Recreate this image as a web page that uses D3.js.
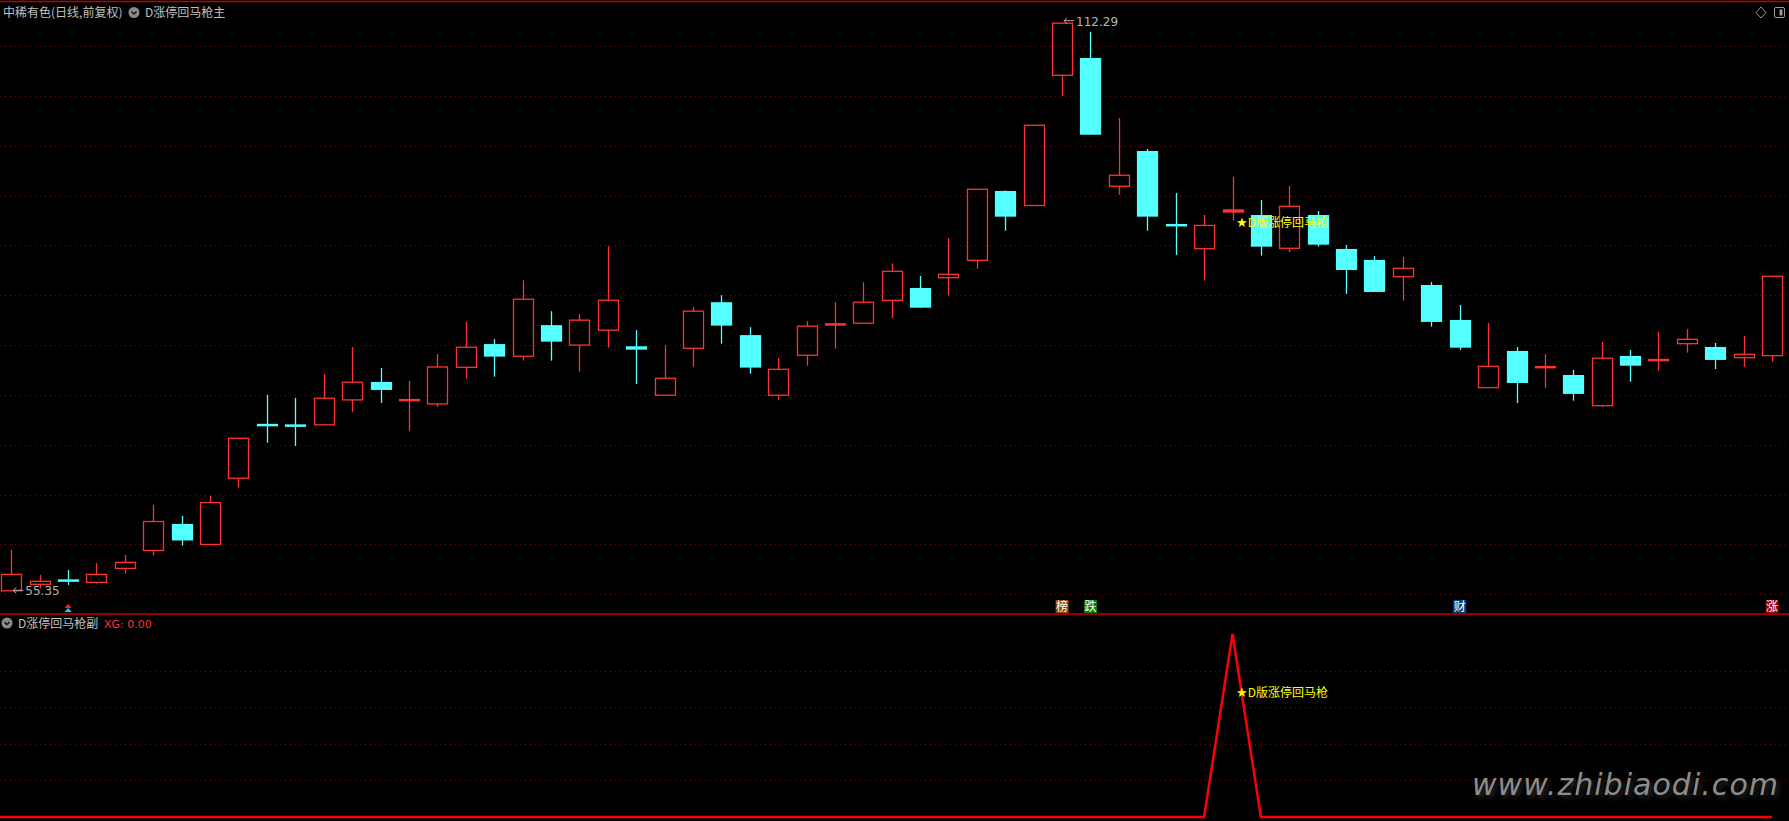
<!DOCTYPE html>
<html>
<head>
<meta charset="utf-8">
<script src="https://cdn.jsdelivr.net/npm/d3@7"></script>
<style>
  html, body { margin: 0; padding: 0; background: #000; overflow: hidden; }
  svg { display: block; }
</style>
</head>
<body>
<script>
// daily candles, index 0..62 (price)
const opens  = [55.35, 56.0, 56.4, 56.2, 57.6, 59.4, 62.06, 60.0, 66.64, 72.0,
                71.95, 72.0, 74.5, 76.3, 74.45, 74.1, 77.77, 80.1, 78.88, 82.0,
                80.0, 81.5, 79.88, 74.97, 79.68, 84.3, 81.0, 74.97, 78.98, 82.05,
                82.2, 84.49, 85.73, 86.76, 88.5, 95.46, 94.0, 107.06, 108.8, 95.93,
                99.47, 92.05, 89.67, 93.28, 93.05, 89.71, 93.05, 89.64, 88.54, 86.86,
                86.03, 82.52, 75.73, 79.41, 77.77, 77.0, 73.92, 78.91, 78.48, 80.14,
                79.81, 78.74, 78.94];
const highs  = [59.45, 56.94, 57.44, 58.14, 58.95, 63.96, 62.86, 64.86, 70.65, 75.0,
                74.7, 77.1, 79.8, 77.7, 76.4, 79.1, 82.33, 80.6, 86.5, 83.4,
                83.1, 89.94, 81.5, 80.0, 83.8, 85.0, 81.8, 78.7, 82.4, 84.3,
                86.3, 88.2, 86.93, 90.74, 95.63, 95.5, 102.05, 112.29, 111.43, 102.78,
                99.67, 95.26, 93.05, 96.86, 94.55, 95.96, 93.45, 90.04, 88.94, 88.84,
                86.33, 84.02, 82.22, 79.81, 79.1, 77.5, 80.31, 79.51, 81.32, 81.62,
                80.21, 80.91, 86.9];
const lows   = [55.35, 55.6, 55.94, 56.07, 57.07, 58.9, 59.88, 60.0, 65.7, 70.2,
                69.88, 72.0, 73.3, 74.2, 71.4, 73.8, 76.63, 76.83, 78.44, 78.44,
                77.33, 79.74, 76.1, 74.97, 77.83, 80.14, 77.13, 74.52, 77.93, 79.64,
                82.2, 82.7, 83.75, 84.96, 87.66, 91.47, 94.0, 105.0, 101.1, 95.08,
                91.47, 89.04, 86.46, 92.48, 88.97, 89.31, 89.87, 85.13, 85.33, 84.45,
                81.85, 79.51, 75.73, 74.19, 75.7, 74.42, 73.79, 76.33, 77.43, 79.24,
                77.6, 77.8, 78.33];
const closes = [57.0, 56.3, 56.35, 57.0, 58.2, 62.3, 60.4, 64.2, 70.65, 71.95,
                71.89, 74.67, 76.27, 75.5, 74.5, 77.8, 79.78, 78.84, 84.6, 80.34,
                82.5, 84.5, 79.54, 76.67, 83.4, 81.95, 77.74, 77.57, 81.9, 82.09,
                84.3, 87.4, 83.75, 87.1, 95.63, 92.88, 102.05, 112.29, 101.1, 97.03,
                92.88, 92.0, 92.0, 93.62, 89.87, 93.92, 90.07, 87.53, 85.33, 87.7,
                82.32, 79.74, 77.87, 76.2, 77.8, 75.1, 78.68, 77.93, 78.51, 80.58,
                78.51, 79.08, 86.9];

// XG signal of the lower indicator
const xg = [0, 0, 0, 0, 0, 0, 0, 0, 0, 0,
            0, 0, 0, 0, 0, 0, 0, 0, 0, 0,
            0, 0, 0, 0, 0, 0, 0, 0, 0, 0,
            0, 0, 0, 0, 0, 0, 0, 0, 0, 0,
            0, 0, 0, 1, 0, 0, 0, 0, 0, 0,
            0, 0, 0, 0, 0, 0, 0, 0, 0, 0,
            0, 0, 0];

// event tags under the main chart
const tagIndex = [37, 38, 51, 62];
const tagText  = ["榜", "跌", "财", "涨"];
const tagColor = ["#8a4a10", "#087a08", "#10407a", "#900000"];

const priceTicks = [55, 60, 65, 70, 75, 80, 85, 90, 95, 100, 105, 110];
const subTicks = [0.2, 0.4, 0.6, 0.8];

const W = 1789, H = 821;
const RED = "#ff3232", CYAN = "#54ffff", GRID = "#8a0000";
const CJK = "'Noto Sans CJK SC', 'Noto Sans', sans-serif";

const svg = d3.select("body").append("svg")
    .attr("width", W)
    .attr("height", H);

svg.append("rect").attr("width", W).attr("height", H).attr("fill", "#000");

const x = d3.scaleLinear().domain([0, 62]).range([11.3, 1772.1]);
const y = d3.scaleLinear().domain([55, 110]).range([594.3, 46]);
const ySub = d3.scaleLinear().domain([0, 1]).range([817, 634]);

// frame lines
svg.append("line").attr("x1", 0).attr("x2", W).attr("y1", 1.5).attr("y2", 1.5)
    .attr("stroke", "#c00000").attr("stroke-width", 1.5);
[23, 1733, 1768].forEach(t => {
    svg.append("line").attr("x1", t).attr("x2", t).attr("y1", 0).attr("y2", 2)
        .attr("stroke", "#c00000");
});
svg.append("line").attr("x1", 0).attr("x2", W).attr("y1", 614).attr("y2", 614)
    .attr("stroke", "#c00000").attr("stroke-width", 1.5);

// dotted grid
svg.append("g").selectAll("line")
    .data(priceTicks)
    .enter().append("line")
    .attr("x1", 0).attr("x2", W)
    .attr("y1", d => Math.round(y(d)) + 0.5)
    .attr("y2", d => Math.round(y(d)) + 0.5)
    .attr("stroke", GRID)
    .attr("stroke-dasharray", "1,4");

svg.append("g").selectAll("line")
    .data(subTicks)
    .enter().append("line")
    .attr("x1", 0).attr("x2", W)
    .attr("y1", d => Math.round(ySub(d)) + 0.5)
    .attr("y2", d => Math.round(ySub(d)) + 0.5)
    .attr("stroke", GRID)
    .attr("stroke-dasharray", "1,4");

// candles
const candles = d3.range(closes.length).map(i => ({
    i: i, o: opens[i], h: highs[i], l: lows[i], c: closes[i], sig: xg[i]
}));
const bw = 20;

const g = svg.append("g");
candles.forEach(d => {
    const cx = Math.round(x(d.i)) + 0.5;
    const up = d.c >= d.o;
    const col = up ? RED : CYAN;
    const top = y(Math.max(d.o, d.c)), bot = y(Math.min(d.o, d.c));
    const hgt = bot - top;

    if (up && hgt >= 2.5 && !d.sig) {
        // hollow red body, wick only outside the box
        g.append("line").attr("x1", cx).attr("x2", cx)
            .attr("y1", y(d.h)).attr("y2", top)
            .attr("stroke", col).attr("stroke-width", 1.3);
        g.append("line").attr("x1", cx).attr("x2", cx)
            .attr("y1", bot).attr("y2", y(d.l))
            .attr("stroke", col).attr("stroke-width", 1.3);
        g.append("rect")
            .attr("x", cx - bw / 2).attr("y", top)
            .attr("width", bw).attr("height", hgt)
            .attr("fill", "none").attr("stroke", col).attr("stroke-width", 1.3);
    } else {
        g.append("line").attr("x1", cx).attr("x2", cx)
            .attr("y1", y(d.h)).attr("y2", y(d.l))
            .attr("stroke", col).attr("stroke-width", 1.3);
        const hh = Math.max(hgt, 2.5);
        g.append("rect")
            .attr("x", cx - bw / 2 - 0.6).attr("y", (top + bot) / 2 - hh / 2)
            .attr("width", bw + 1.2).attr("height", hh)
            .attr("fill", col);
    }
});

// max / min markers
function arrowLabel(px, py, txt) {
    const a = svg.append("g").attr("fill", "none").attr("stroke", "#b4b4b4").attr("stroke-width", 1);
    a.append("path").attr("d", `M${px + 11},${py} L${px + 1},${py} M${px + 4},${py - 3} L${px + 1},${py} L${px + 4},${py + 3}`);
    svg.append("text").attr("x", px + 13).attr("y", py + 5)
        .attr("fill", "#b4b4b4").attr("font-family", "'DejaVu Sans', sans-serif")
        .attr("font-size", 12).text(txt);
}
const iMax = d3.maxIndex(highs), iMin = d3.minIndex(lows);
arrowLabel(x(iMax) + 1, y(highs[iMax]) - 2.5, d3.max(highs).toFixed(2));
arrowLabel(x(iMin) + 1, y(lows[iMin]) - 0.5, d3.min(lows).toFixed(2));

// small buy arrows under candle 2
const ax = x(2);
svg.append("path").attr("d", `M${ax - 3.5},${608} L${ax},${604} L${ax + 3.5},${608} Z`).attr("fill", "#ff2020");
svg.append("path").attr("d", `M${ax - 3.5},${612} L${ax},${608} L${ax + 3.5},${612} Z`).attr("fill", "#30c8ff");

// event tags
tagIndex.forEach((ti, k) => {
    const cx = x(ti);
    svg.append("rect").attr("x", cx - 6.5).attr("y", 600).attr("width", 13).attr("height", 13)
        .attr("fill", tagColor[k]);
    svg.append("text").attr("x", cx).attr("y", 611)
        .attr("text-anchor", "middle").attr("fill", "#fff")
        .attr("font-family", CJK).attr("font-size", 12).text(tagText[k]);
});

// indicator line, starting at the left edge
const line = d3.line().x((d, i) => i === 0 ? 0 : x(i)).y(d => ySub(d));
svg.append("path").datum(xg)
    .attr("d", line)
    .attr("fill", "none").attr("stroke", "#ff0000").attr("stroke-width", 2.5);

// signal annotations
const si = xg.indexOf(1);
function starText(py) {
    const t = svg.append("text").attr("x", x(si) + 3.5).attr("y", py)
        .attr("fill", "#ffff00").attr("font-family", CJK).attr("font-size", 12);
    t.append("tspan").attr("font-family", "'DejaVu Sans', sans-serif").attr("font-size", 13).text("★");
    t.append("tspan").text("D版涨停回马枪");
}
starText(227);
starText(697);

// titles
function icon(cx, cy) {
    svg.append("circle").attr("cx", cx).attr("cy", cy).attr("r", 5.5).attr("fill", "#8a8a8a");
    svg.append("path").attr("d", `M${cx - 2.5},${cy - 1} L${cx},${cy + 1.5} L${cx + 2.5},${cy - 1}`)
        .attr("fill", "none").attr("stroke", "#111").attr("stroke-width", 1.4);
}
svg.append("text").attr("x", 3).attr("y", 17).attr("fill", "#c0c0c0")
    .attr("font-family", CJK).attr("font-size", 12).text("中稀有色(日线,前复权)");
icon(134, 12.5);
svg.append("text").attr("x", 145).attr("y", 17).attr("fill", "#c0c0c0")
    .attr("font-family", CJK).attr("font-size", 12).text("D涨停回马枪主");

icon(7, 623);
svg.append("text").attr("x", 18).attr("y", 628).attr("fill", "#c0c0c0")
    .attr("font-family", CJK).attr("font-size", 12).text("D涨停回马枪副");
svg.append("text").attr("x", 104).attr("y", 628).attr("fill", RED)
    .attr("font-family", "'DejaVu Sans', sans-serif").attr("font-size", 11)
    .text("XG: " + xg[xg.length - 1].toFixed(2));

// top-right icons
svg.append("path").attr("d", "M1761,7 L1766,12.5 L1761,18 L1756,12.5 Z")
    .attr("fill", "none").attr("stroke", "#9a9a9a");
svg.append("rect").attr("x", 1774.5).attr("y", 7.5).attr("width", 10).attr("height", 10).attr("rx", 1.5)
    .attr("fill", "none").attr("stroke", "#9a9a9a");
svg.append("rect").attr("x", 1779.5).attr("y", 9.5).attr("width", 3).attr("height", 6).attr("fill", "#9a9a9a");

// watermark
const defs = svg.append("defs");
defs.append("filter").attr("id", "blur").append("feGaussianBlur").attr("stdDeviation", 2.5);
svg.append("text").attr("x", 1475).attr("y", 798)
    .attr("fill", "#2a2a2a").attr("filter", "url(#blur)")
    .attr("font-family", "'DejaVu Sans', sans-serif").attr("font-style", "italic")
    .attr("font-size", 30).attr("textLength", 306).text("www.zhibiaodi.com");
svg.append("text").attr("x", 1472).attr("y", 795)
    .attr("fill", "#8c8c8c")
    .attr("font-family", "'DejaVu Sans', sans-serif").attr("font-style", "italic")
    .attr("font-size", 30).attr("textLength", 306).text("www.zhibiaodi.com");
</script>
</body>
</html>
